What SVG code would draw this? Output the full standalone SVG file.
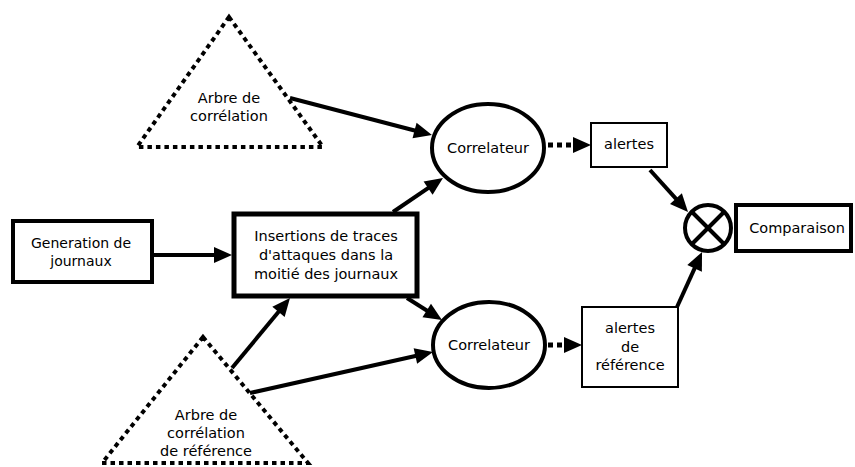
<svg xmlns="http://www.w3.org/2000/svg" width="855" height="467" viewBox="0 0 855 467">
<style>
text{font-family:"DejaVu Sans","Liberation Sans",sans-serif;font-size:14.5px;fill:#000;text-anchor:middle}
.thick{fill:#fff;stroke:#000;stroke-width:4}
.thin{fill:#fff;stroke:#000;stroke-width:2}
.tri{fill:none;stroke:#000;stroke-width:4;stroke-dasharray:4.5 4}
.arr{fill:none;stroke:#000;stroke-width:4;marker-end:url(#ah)}
.dot{fill:none;stroke:#000;stroke-width:5;stroke-dasharray:5 4}
</style>
<defs>
<marker id="ah" markerUnits="userSpaceOnUse" markerWidth="20" markerHeight="16" refX="8" refY="8" orient="auto" overflow="visible">
<path d="M0,0 L18,8 L0,16 z" fill="#000"/>
</marker>
</defs>
<rect width="855" height="467" fill="#fff"/>
<g id="tree-top">
<polygon class="tri" points="229,17 323,147 137,147"/>
<text x="229" y="103">Arbre de</text>
<text x="229" y="121">corrélation</text>
</g>
<g id="tree-ref">
<polygon class="tri" points="203,337 308,463 102,463"/>
<text x="206" y="420">Arbre de</text>
<text x="206" y="438">corrélation</text>
<text x="206" y="456">de référence</text>
</g>
<g id="generation">
<rect class="thick" x="13" y="221" width="139" height="61"/>
<text x="81" y="248" style="font-size:14px">Generation de</text>
<text x="81" y="266" style="font-size:14px">journaux</text>
</g>
<g id="insertions">
<rect x="234" y="214" width="183" height="82" fill="#fff" stroke="#000" stroke-width="5"/>
<text x="326" y="241">Insertions de traces</text>
<text x="326" y="260">d'attaques dans la</text>
<text x="326" y="279">moitié des journaux</text>
</g>
<g id="correlateur-top">
<ellipse class="thick" cx="488" cy="148" rx="56" ry="44"/>
<text x="488" y="153">Correlateur</text>
</g>
<g id="correlateur-ref">
<ellipse class="thick" cx="489" cy="345" rx="56" ry="43"/>
<text x="489" y="350">Correlateur</text>
</g>
<g id="alertes">
<rect class="thin" x="591" y="123" width="76" height="44"/>
<text x="629" y="149">alertes</text>
</g>
<g id="alertes-ref">
<rect class="thin" x="582" y="307" width="96" height="80"/>
<text x="630" y="333">alertes</text>
<text x="630" y="352">de</text>
<text x="630" y="370">référence</text>
</g>
<g id="comparateur">
<circle class="thick" cx="708" cy="228" r="23"/>
<line x1="692" y1="212" x2="724" y2="244" stroke="#000" stroke-width="4"/>
<line x1="724" y1="212" x2="692" y2="244" stroke="#000" stroke-width="4"/>
</g>
<g id="comparaison">
<rect class="thick" x="736" y="205" width="115" height="46"/>
<text x="797" y="233">Comparaison</text>
</g>
<g id="connectors">
<line class="arr" x1="290" y1="98" x2="422.3" y2="132.5"/>
<line class="arr" x1="152" y1="255" x2="222" y2="255"/>
<line class="arr" x1="393" y1="212" x2="434.7" y2="183.6"/>
<line class="arr" x1="407" y1="298" x2="433.5" y2="314.7"/>
<line class="arr" x1="232" y1="368" x2="283.6" y2="305.7"/>
<line class="arr" x1="250" y1="393" x2="423.2" y2="354.2"/>
<line class="arr" x1="650" y1="170" x2="681.3" y2="204.6"/>
<line class="arr" x1="677" y1="307" x2="697.9" y2="261.1"/>
<line class="dot" x1="548" y1="145" x2="574" y2="145"/>
<line x1="573" y1="145" x2="581" y2="145" stroke="#000" stroke-width="4" marker-end="url(#ah)"/>
<line class="dot" x1="548" y1="345" x2="565" y2="345"/>
<line x1="564" y1="345" x2="572" y2="345" stroke="#000" stroke-width="4" marker-end="url(#ah)"/>
</g>
</svg>
